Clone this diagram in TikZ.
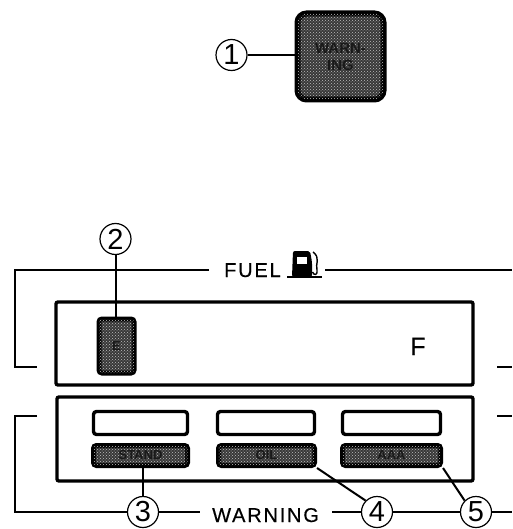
\documentclass[tikz,border=0pt]{standalone}
\usepackage{fontspec}
\setmainfont{Liberation Sans}
\usetikzlibrary{patterns}
\newfontfamily\spaced[LetterSpace=9,FakeBold=0.4]{Liberation Sans}
\tikzset{
  x=1pt,y=-1pt,
  thinline/.style={line width=2pt,black},
  panel/.style={draw=black,line width=3.4pt,rounded corners=2pt,inner sep=0pt},
  numcircle/.style={circle,draw=black,line width=1.2pt,fill=white,minimum size=31pt,inner sep=0pt,font=\fontsize{29}{29}\selectfont},
  whitebox/.style={draw=black,line width=3.4pt,fill=white,rounded corners=3pt,inner sep=0pt},
  lamp/.style={draw=black,line width=5pt,fill=black!78,rounded corners=3pt,inner sep=0pt,
    postaction={pattern=crosshatch dots,pattern color=black!25},
    text=black!90,font=\bfseries\fontsize{13}{14}\selectfont,align=center},
  label/.style={inner sep=0pt,font=\spaced\fontsize{20}{20}\selectfont},
}
\begin{document}
\begin{tikzpicture}
\useasboundingbox (0,0) rectangle (512,529);
% panels
\node[panel,minimum width=417pt,minimum height=83pt] (panelA) at (264.5,343.5) {};
\node[panel,minimum width=416pt,minimum height=84pt] (panelB) at (265,439) {};
% lamps
\node[lamp,minimum width=86pt,minimum height=86pt,rounded corners=9pt,line width=6pt,font=\bfseries\fontsize{15}{17}\selectfont] (warnlamp) at (340.5,56.5) {WARN-\\ING};
\node[lamp,minimum width=35pt,minimum height=54pt] (elamp) at (116.5,346) {E};
\node[whitebox,minimum width=94pt,minimum height=23pt] (w1) at (140.5,423) {};
\node[whitebox,minimum width=97pt,minimum height=23pt] (w2) at (266,423) {};
\node[whitebox,minimum width=98pt,minimum height=23pt] (w3) at (391.5,423) {};
\node[lamp,minimum width=94pt,minimum height=20pt] (l1) at (140.5,455.5) {STAND};
\node[lamp,minimum width=96pt,minimum height=20pt] (l2) at (266.5,455.5) {OIL};
\node[lamp,minimum width=98pt,minimum height=20pt] (l3) at (391.5,455.5) {AAA};
% texts
\node[label,anchor=base west] (fuel) at (224,277) {FUEL};
\node[label,anchor=base west] (warning) at (212,522) {WARNING};
\node[inner sep=0pt,anchor=base,font=\spaced\fontsize{25}{25}\selectfont] (ftext) at (418,355) {F};
% pump icon
\fill[black,rounded corners=2pt] (292,277) -- (293,251) -- (310,251) -- (312,262) -- (312,277) -- cycle;
\fill[white] (297,257) rectangle (307,264);
\draw[line width=1.4pt] (287,277) -- (322,277);
\draw[line width=1.4pt] (313,252) .. controls (321,258) and (315,264) .. (317,270) .. controls (318,275) and (314,276) .. (312.5,272);
% number circles
\node[numcircle] (c1) at (231.5,55) {1};
\node[numcircle] (c2) at (115.5,239) {2};
\node[numcircle] (c3) at (143,512) {3};
\node[numcircle] (c4) at (377,512) {4};
\node[numcircle] (c5) at (476,512) {5};
\coordinate (fa) at (15,270);
\coordinate (fb) at (15,367);
\coordinate (fc) at (37,367);
\coordinate (fd) at (209,270);
\coordinate (fe) at (325,270);
\coordinate (ff) at (512,270);
\coordinate (fg) at (497,367);
\coordinate (fh) at (512,367);
\coordinate (wa) at (37,416);
\coordinate (wb) at (15,416);
\coordinate (wc) at (15,512);
\coordinate (wd) at (497,416);
\coordinate (we) at (512,416);
\coordinate (wf) at (200,512);
\coordinate (wg) at (332,512);
\coordinate (wh) at (512,512);
% brackets
\draw[thinline] (fd) -- (fa) -- (fb) -- (fc);
\draw[thinline] (fe) -- (ff);
\draw[thinline] (fg) -- (fh);
\draw[thinline] (wa) -- (wb) -- (wc) -- (c3.west);
\draw[thinline] (c3.east) -- (wf);
\draw[thinline] (wg) -- (c4.west);
\draw[thinline] (c4.east) -- (c5.west);
\draw[thinline] (c5.east) -- (wh);
\draw[thinline] (wd) -- (we);
% leaders
\draw[thinline] (c1.east) -- (c1.east -| warnlamp.west);
\draw[thinline] (c2.south) -- (elamp.north -| c2.south);
\draw[thinline] (c3.north) -- (l1.south -| c3.north);
\draw[thinline] (c4.north west) -- (l2.south east);
\draw[thinline] (c5.north west) -- (l3.south east);
\end{tikzpicture}
\end{document}
